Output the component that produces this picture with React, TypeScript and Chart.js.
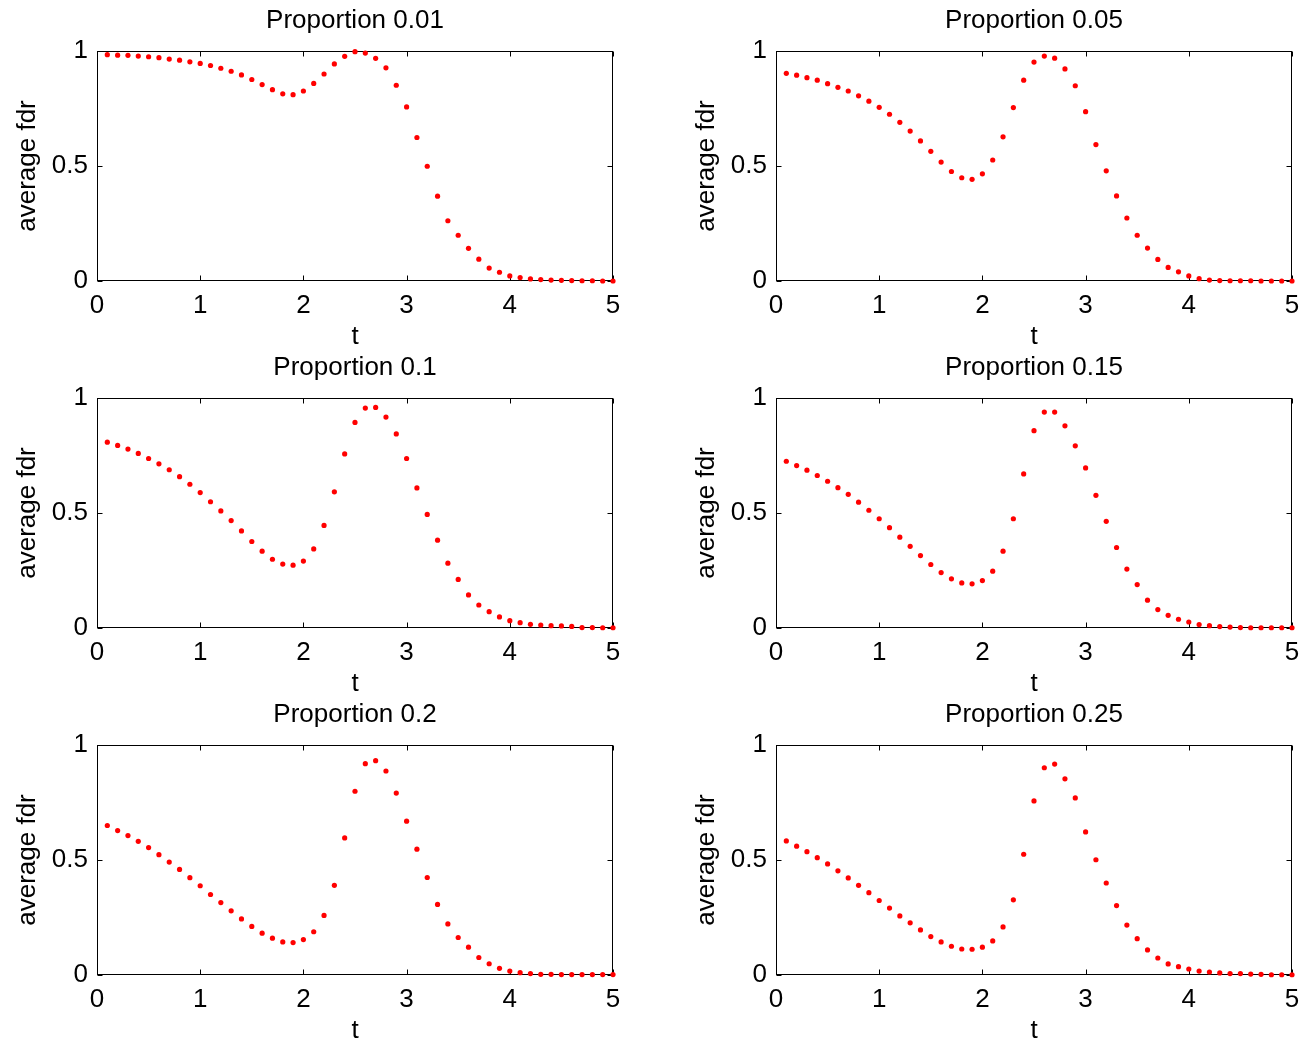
import React, { useEffect, useRef } from "react";
import { Chart, registerables } from "chart.js";

Chart.register(...registerables);

// Time grid shared by every panel
const tValues = [
  0.1, 0.2, 0.3, 0.4, 0.5, 0.6, 0.7, 0.8, 0.9, 1.0,
  1.1, 1.2, 1.3, 1.4, 1.5, 1.6, 1.7, 1.8, 1.9, 2.0,
  2.1, 2.2, 2.3, 2.4, 2.5, 2.6, 2.7, 2.8, 2.9, 3.0,
  3.1, 3.2, 3.3, 3.4, 3.5, 3.6, 3.7, 3.8, 3.9, 4.0,
  4.1, 4.2, 4.3, 4.4, 4.5, 4.6, 4.7, 4.8, 4.9, 5.0,
];

// Average FDR for each proportion
const fdrProp001 = [
  0.984, 0.982, 0.981, 0.978, 0.975, 0.971, 0.965, 0.960, 0.953, 0.946,
  0.937, 0.925, 0.912, 0.896, 0.876, 0.854, 0.832, 0.814, 0.810, 0.826,
  0.859, 0.900, 0.944, 0.977, 0.997, 0.991, 0.968, 0.927, 0.851, 0.757,
  0.624, 0.499, 0.369, 0.262, 0.199, 0.142, 0.095, 0.056, 0.038, 0.022,
  0.015, 0.009, 0.006, 0.004, 0.003, 0.002, 0.001, 0.001, 0.000, 0.000,
];
const fdrProp005 = [
  0.903, 0.895, 0.884, 0.873, 0.858, 0.842, 0.826, 0.805, 0.782, 0.755,
  0.725, 0.690, 0.652, 0.609, 0.564, 0.517, 0.476, 0.449, 0.442, 0.466,
  0.526, 0.627, 0.754, 0.873, 0.952, 0.978, 0.969, 0.922, 0.849, 0.736,
  0.593, 0.479, 0.370, 0.274, 0.199, 0.143, 0.094, 0.059, 0.040, 0.022,
  0.010, 0.004, 0.002, 0.001, 0.001, 0.001, 0.000, 0.000, 0.000, 0.000,
];
const fdrProp010 = [
  0.808, 0.794, 0.778, 0.759, 0.737, 0.714, 0.688, 0.658, 0.625, 0.589,
  0.549, 0.509, 0.467, 0.422, 0.376, 0.334, 0.299, 0.278, 0.273, 0.291,
  0.344, 0.446, 0.592, 0.757, 0.894, 0.956, 0.959, 0.917, 0.844, 0.737,
  0.609, 0.494, 0.382, 0.282, 0.211, 0.144, 0.100, 0.071, 0.048, 0.032,
  0.023, 0.016, 0.013, 0.010, 0.009, 0.007, 0.002, 0.002, 0.001, 0.001,
];
const fdrProp015 = [
  0.725, 0.706, 0.686, 0.663, 0.638, 0.610, 0.581, 0.547, 0.512, 0.475,
  0.436, 0.395, 0.355, 0.315, 0.276, 0.241, 0.214, 0.196, 0.192, 0.206,
  0.247, 0.334, 0.475, 0.670, 0.858, 0.939, 0.939, 0.879, 0.792, 0.696,
  0.577, 0.464, 0.350, 0.256, 0.189, 0.121, 0.080, 0.055, 0.038, 0.026,
  0.015, 0.010, 0.006, 0.004, 0.002, 0.001, 0.001, 0.001, 0.001, 0.001,
];
const fdrProp020 = [
  0.650, 0.628, 0.606, 0.581, 0.554, 0.523, 0.491, 0.459, 0.423, 0.388,
  0.350, 0.315, 0.279, 0.244, 0.211, 0.182, 0.160, 0.144, 0.141, 0.154,
  0.188, 0.259, 0.390, 0.596, 0.799, 0.919, 0.932, 0.887, 0.791, 0.669,
  0.547, 0.424, 0.307, 0.222, 0.163, 0.121, 0.076, 0.049, 0.029, 0.017,
  0.010, 0.006, 0.003, 0.003, 0.002, 0.002, 0.002, 0.002, 0.002, 0.002,
];
const fdrProp025 = [
  0.583, 0.560, 0.536, 0.510, 0.483, 0.453, 0.422, 0.390, 0.358, 0.324,
  0.291, 0.257, 0.227, 0.196, 0.167, 0.144, 0.125, 0.113, 0.112, 0.121,
  0.148, 0.209, 0.327, 0.525, 0.757, 0.901, 0.917, 0.853, 0.770, 0.622,
  0.501, 0.400, 0.302, 0.217, 0.158, 0.109, 0.074, 0.048, 0.036, 0.026,
  0.017, 0.013, 0.009, 0.006, 0.006, 0.004, 0.003, 0.001, 0.001, 0.001,
];

const panelTitles = [
  "Proportion 0.01",
  "Proportion 0.05",
  "Proportion 0.1",
  "Proportion 0.15",
  "Proportion 0.2",
  "Proportion 0.25",
];
const panelSeries = [fdrProp001, fdrProp005, fdrProp010, fdrProp015, fdrProp020, fdrProp025];

const xTickValues = [0, 1, 2, 3, 4, 5];
const yTickValues = [0, 0.5, 1];
const xLabel = "t";
const yLabel = "average fdr";

const FONT_FAMILY = '"Liberation Sans", Arial, Helvetica, sans-serif';
const AXIS_LEFT = 97;
const RIGHT_PAD = 24;
const PANEL_W = 637;
const PANEL_H = 347;
const COL_STEP = 679;

// Closed axes box with inward-pointing tick marks on all four sides
const axesBox = {
  id: "axesBox",
  beforeDatasetsDraw(chart: any) {
    const { ctx, chartArea, scales } = chart;
    const { left, right, top, bottom } = chartArea;
    const tickLen = 5;
    ctx.save();
    ctx.strokeStyle = "#000";
    ctx.lineWidth = 1;
    const l = Math.round(left) + 0.5;
    const r = Math.round(right) - 0.5;
    const t = Math.round(top) + 0.5;
    const b = Math.round(bottom) - 0.5;
    ctx.strokeRect(l, t, r - l, b - t);
    ctx.beginPath();
    for (const v of xTickValues) {
      const px = Math.round(scales.x.getPixelForValue(v)) + 0.5;
      ctx.moveTo(px, b);
      ctx.lineTo(px, b - tickLen);
      ctx.moveTo(px, t);
      ctx.lineTo(px, t + tickLen);
    }
    for (const v of yTickValues) {
      const py = Math.round(scales.y.getPixelForValue(v)) + 0.5;
      ctx.moveTo(l, py);
      ctx.lineTo(l + tickLen, py);
      ctx.moveTo(r, py);
      ctx.lineTo(r - tickLen, py);
    }
    ctx.stroke();
    ctx.restore();
  },
};

function Panel({ title, values }: { title: string; values: number[] }) {
  const canvasRef = useRef<HTMLCanvasElement | null>(null);

  useEffect(() => {
    const canvas = canvasRef.current;
    if (!canvas) return;
    const font = { family: FONT_FAMILY, size: 26, weight: "normal" as const };
    const chart = new Chart(canvas, {
      type: "scatter",
      data: {
        datasets: [
          {
            data: tValues.map((t, i) => ({ x: t, y: values[i] })),
            backgroundColor: "#ff0000",
            borderColor: "#ff0000",
            borderWidth: 0,
            pointRadius: 2.6,
            pointHoverRadius: 2.6,
            clip: false as any,
          },
        ],
      },
      options: {
        responsive: false,
        animation: false,
        events: [],
        layout: { padding: { left: 0, right: RIGHT_PAD, top: 0, bottom: 0 } },
        plugins: {
          legend: { display: false },
          tooltip: { enabled: false },
          title: {
            display: true,
            fullSize: false,
            text: title,
            color: "#000",
            font: { ...font, lineHeight: 1.2 },
            padding: { top: 5, bottom: 14.8 },
          },
        },
        scales: {
          x: {
            type: "linear",
            min: 0,
            max: 5,
            grid: { display: false, drawTicks: false },
            border: { display: false },
            ticks: {
              stepSize: 1,
              color: "#000",
              font: { ...font, lineHeight: 1.2 },
              padding: 9,
              maxRotation: 0,
              autoSkip: false,
              callback: (v: any) => String(Number(v)),
            },
            title: {
              display: true,
              text: xLabel,
              color: "#000",
              font: { ...font, lineHeight: 0.77 },
              padding: 0,
            },
            afterFit: (scale: any) => {
              scale.height = 66;
            },
          },
          y: {
            type: "linear",
            min: 0,
            max: 1,
            grid: { display: false, drawTicks: false },
            border: { display: false },
            ticks: {
              stepSize: 0.5,
              color: "#000",
              font: { ...font, lineHeight: 1.2 },
              padding: 9,
              callback: (v: any) => String(Number(v)),
            },
            title: {
              display: true,
              text: yLabel,
              color: "#000",
              font: { ...font, lineHeight: 1.2 },
              padding: { top: 12.4, bottom: 0 },
            },
            afterFit: (scale: any) => {
              scale.width = AXIS_LEFT;
            },
          },
        },
      },
      plugins: [axesBox],
    });
    return () => chart.destroy();
  }, [title, values]);

  return <canvas ref={canvasRef} width={PANEL_W} height={PANEL_H} style={{ display: "block" }} />;
}

export default function App() {
  return (
    <div
      style={{
        position: "absolute",
        left: 0,
        top: 0,
        width: 1316,
        height: 1042,
        background: "#fff",
        overflow: "hidden",
      }}
    >
      {panelTitles.map((title, i) => (
        <div
          key={title}
          style={{
            position: "absolute",
            left: (i % 2) * COL_STEP,
            top: Math.floor(i / 2) * PANEL_H,
            width: PANEL_W,
            height: PANEL_H,
          }}
        >
          <Panel title={title} values={panelSeries[i]} />
        </div>
      ))}
    </div>
  );
}
